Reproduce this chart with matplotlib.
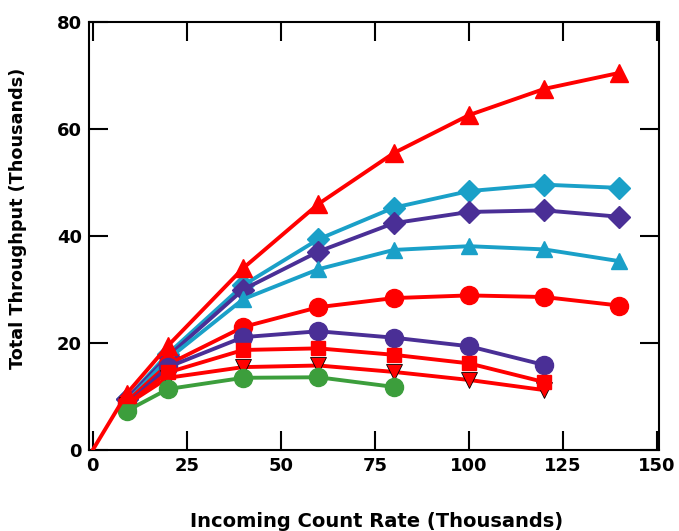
import matplotlib
matplotlib.use("Agg")
from matplotlib import pyplot as plt

# incoming count rate (thousands)
x_long = [9, 20, 40, 60, 80, 100, 120, 140]
x_mid = [9, 20, 40, 60, 80, 100, 120]
x_short = [9, 20, 40, 60, 80]

# total throughput (thousands)
red_tri = [10.5, 19.5, 34.0, 46.0, 55.5, 62.6, 67.5, 70.5]
cyan_dia = [9.5, 18.0, 30.8, 39.4, 45.3, 48.4, 49.6, 49.0]
purple_dia = [9.5, 17.5, 30.0, 37.1, 42.4, 44.5, 44.8, 43.6]
cyan_tri = [9.0, 17.0, 28.2, 33.8, 37.4, 38.1, 37.5, 35.3]
red_circ = [9.0, 16.0, 23.0, 26.7, 28.4, 28.9, 28.6, 27.0]
purple_circ = [8.5, 15.5, 21.1, 22.2, 21.0, 19.4, 15.9]
red_sq = [8.5, 14.5, 18.7, 19.0, 17.8, 16.2, 12.7]
red_vtri = [8.5, 13.5, 15.5, 15.8, 14.6, 13.1, 11.2]
green_circ = [7.3, 11.4, 13.5, 13.6, 11.8]

RED = "#ff0000"
CYAN = "#1aa0c8"
PURPLE = "#4a2f96"
GREEN = "#3c9e3c"

fig = plt.figure(figsize=(6.79, 5.31), dpi=100)
ax = fig.add_axes([0.131, 0.1525, 0.8395, 0.806])

lw = 2.8
ms = 13
# red triangle curve starts from the origin
ax.plot([0] + x_long, [0] + red_tri, color=RED, lw=lw, marker="^", ms=ms,
        markevery=list(range(1, 9)), zorder=3)
ax.plot(x_long, cyan_dia, color=CYAN, lw=lw, marker="D", ms=ms - 2)
ax.plot(x_long, purple_dia, color=PURPLE, lw=lw, marker="D", ms=ms - 2)
ax.plot(x_long, cyan_tri, color=CYAN, lw=lw, marker="^", ms=ms - 1)
ax.plot(x_long, red_circ, color=RED, lw=lw, marker="o", ms=ms)
ax.plot(x_mid, purple_circ, color=PURPLE, lw=lw, marker="o", ms=ms)
ax.plot(x_mid, red_vtri, color=RED, lw=lw, marker="v", ms=ms - 2,
        markeredgecolor="black", markeredgewidth=0.6)
ax.plot(x_mid, red_sq, color=RED, lw=lw, marker="s", ms=ms - 3)
ax.plot(x_short, green_circ, color=GREEN, lw=lw, marker="o", ms=ms)

ax.set_xlim(-1, 150.5)
ax.set_ylim(0, 80)
ax.set_xticks([0, 25, 50, 75, 100, 125, 150])
ax.set_yticks([0, 20, 40, 60, 80])

for s in ax.spines.values():
    s.set_linewidth(1.5)
ax.tick_params(direction="in", length=14, width=1.5, top=True, right=True,
               labelsize=13, pad=5)
for lab in ax.get_xticklabels() + ax.get_yticklabels():
    lab.set_fontweight("bold")

ax.set_xlabel("Incoming Count Rate (Thousands)", fontsize=14,
              fontweight="bold")
ax.set_ylabel("Total Throughput (Thousands)", fontsize=12.7,
              fontweight="bold")
ax.xaxis.set_label_coords(0.505, -0.145)
ax.yaxis.set_label_coords(-0.108, 0.542)

fig.savefig("out.png", dpi=100)
